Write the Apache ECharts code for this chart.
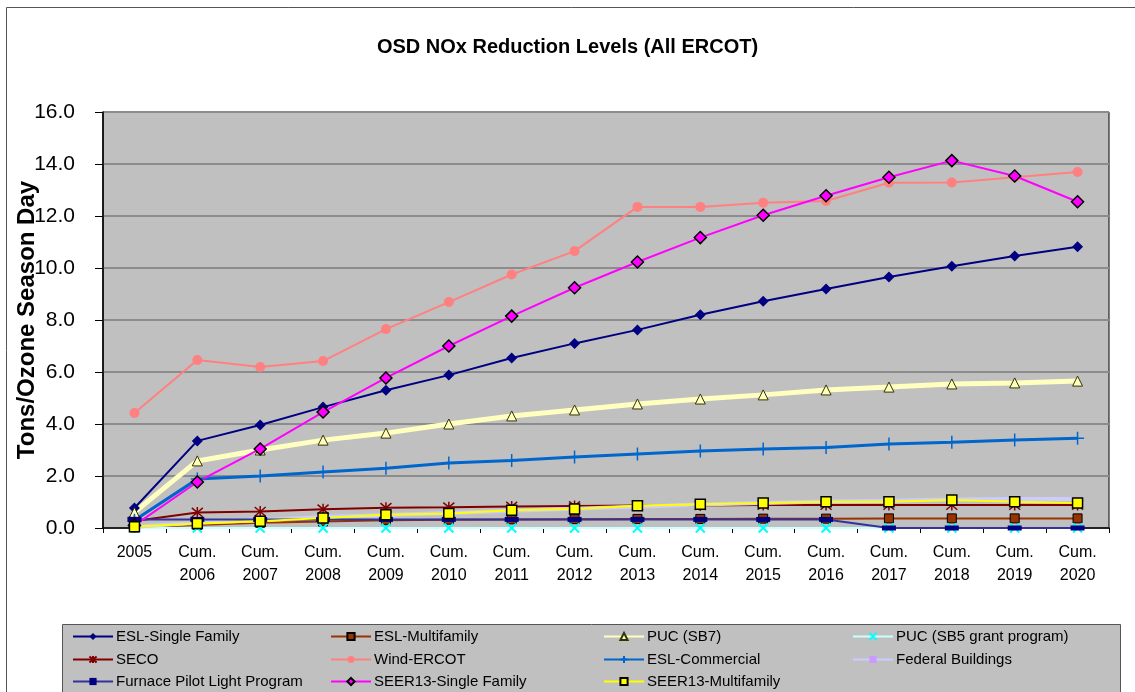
<!DOCTYPE html>
<html>
<head>
    <meta charset="utf-8">
    <title>OSD NOx Reduction Levels</title>
    <script src="https://cdn.jsdelivr.net/npm/echarts@6/dist/echarts.min.js"></script>
    <style>
        body { margin: 0; background: #fff; }
    </style>
</head>
<body>
    <div id="main" style="width:1135px; height:692px;"></div>

    <script type="text/javascript">

        var years = ['2005', 'Cum.\n2006', 'Cum.\n2007', 'Cum.\n2008', 'Cum.\n2009', 'Cum.\n2010',
            'Cum.\n2011', 'Cum.\n2012', 'Cum.\n2013', 'Cum.\n2014', 'Cum.\n2015', 'Cum.\n2016',
            'Cum.\n2017', 'Cum.\n2018', 'Cum.\n2019', 'Cum.\n2020'];

        var eslSingleFamily = [0.77, 3.35, 3.96, 4.65, 5.3, 5.88, 6.54, 7.1, 7.62, 8.2, 8.72, 9.19, 9.65, 10.07, 10.46, 10.82];
        var eslMultifamily = [0.02, 0.12, 0.2, 0.25, 0.3, 0.32, 0.33, 0.34, 0.35, 0.35, 0.36, 0.36, 0.37, 0.37, 0.37, 0.37];
        var pucSB7 = [0.6, 2.58, 3.0, 3.38, 3.65, 4.0, 4.31, 4.54, 4.77, 4.96, 5.12, 5.31, 5.42, 5.54, 5.58, 5.65];
        var pucSB5 = [0, 0, 0, 0, 0, 0, 0, 0, 0, 0, 0, 0, 0, 0, 0, 0];
        var seco = [0.27, 0.6, 0.63, 0.72, 0.78, 0.8, 0.83, 0.85, 0.87, 0.87, 0.88, 0.88, 0.88, 0.88, 0.88, 0.88];
        var windErcot = [4.42, 6.46, 6.19, 6.42, 7.65, 8.69, 9.75, 10.65, 12.35, 12.35, 12.51, 12.58, 13.28, 13.29, 13.49, 13.69];
        var eslCommercial = [0.3, 1.88, 2.0, 2.15, 2.3, 2.5, 2.6, 2.73, 2.85, 2.96, 3.04, 3.1, 3.23, 3.3, 3.38, 3.45];
        var federalBuildings = [0.05, 0.2, 0.3, 0.42, 0.5, 0.58, 0.66, 0.74, 0.82, 0.9, 0.96, 1.02, 1.05, 1.1, 1.12, 1.12];
        var furnacePilot = [0.33, 0.33, 0.33, 0.33, 0.33, 0.33, 0.33, 0.33, 0.33, 0.33, 0.33, 0.33, 0, 0, 0, 0];
        var seer13Single = [0.1, 1.77, 3.04, 4.46, 5.77, 7.0, 8.15, 9.24, 10.23, 11.17, 12.03, 12.78, 13.49, 14.13, 13.54, 12.55];
        var seer13Multi = [0.05, 0.17, 0.26, 0.38, 0.51, 0.56, 0.68, 0.73, 0.86, 0.91, 0.96, 1.01, 1.01, 1.08, 1.01, 0.96];

        var yTicks = { min: 0, max: 16, interval: 2 };

        var FONT = '"Liberation Sans", Arial, sans-serif';

        var xMark = 'path://M0,0L10,10M10,0L0,10';
        var plusMark = 'path://M5,0L5,10M0,5L10,5';
        var starMark = 'path://M0,0L10,10M10,0L0,10M5,-1L5,11';
        var dashMark = 'path://M0,0L12,0L12,4L0,4Z';

        function line(name, data, lineColor, width, symbol, size, fill, border, borderWidth) {
            return {
                name: name,
                type: 'line',
                data: data,
                symbol: symbol,
                symbolSize: size,
                showAllSymbol: true,
                lineStyle: { color: lineColor, width: width },
                itemStyle: { color: fill, borderColor: border, borderWidth: borderWidth },
                emphasis: { disabled: true }
            };
        }

        var series = [
            line('ESL-Single Family', eslSingleFamily, '#000080', 2, 'diamond', 11, '#000080', '#000080', 0),
            line('ESL-Multifamily', eslMultifamily, '#993300', 2, 'rect', 9, '#993300', '#000', 1),
            line('PUC (SB7)', pucSB7, '#FFFFC0', 5, 'triangle', 10, '#FFFFC0', '#333300', 1),
            line('PUC (SB5 grant program)', pucSB5, '#CCFFFF', 2, xMark, 9, 'rgba(0,0,0,0)', '#00FFFF', 2),
            line('SECO', seco, '#800000', 2, starMark, 11, 'rgba(0,0,0,0)', '#800000', 1.5),
            line('Wind-ERCOT', windErcot, '#FF8080', 2, 'circle', 10, '#FF8080', '#FF8080', 0),
            line('ESL-Commercial', eslCommercial, '#0066CC', 3, plusMark, 13, 'rgba(0,0,0,0)', '#0066CC', 1.5),
            line('Federal Buildings', federalBuildings, '#CCCCFF', 4, dashMark, [10, 4], '#CC99FF', '#CC99FF', 0),
            line('Furnace Pilot Light Program', furnacePilot, '#333399', 2, dashMark, [14, 5], '#000080', '#000080', 0),
            line('SEER13-Single Family', seer13Single, '#FF00FF', 2, 'diamond', 12, '#FF00FF', '#000', 1.5),
            line('SEER13-Multifamily', seer13Multi, '#FFFF00', 2, 'rect', 10, '#FFFF00', '#000', 1.5)
        ];

        // legend grid: rows x columns, as in the original Excel legend
        var legendRows = [
            ['ESL-Single Family', 'ESL-Multifamily', 'PUC (SB7)', 'PUC (SB5 grant program)'],
            ['SECO', 'Wind-ERCOT', 'ESL-Commercial', 'Federal Buildings'],
            ['Furnace Pilot Light Program', 'SEER13-Single Family', 'SEER13-Multifamily']
        ];
        var colLeft = [72, 330, 603, 852];
        var rowMid = [635, 658, 680];

        var legends = [];
        legendRows.forEach(function(names, r) {
            names.forEach(function(name, c) {
                legends.push({
                    data: [name],
                    left: colLeft[c],
                    top: rowMid[r] - 6,
                    padding: 0,
                    itemWidth: 40,
                    itemHeight: 9,
                    selectedMode: false,
                    textStyle: { fontFamily: FONT, fontSize: 15, color: '#000', padding: [0, 0, 0, -2] }
                });
            });
        });

        var myChart = echarts.init(document.getElementById('main'));

        myChart.setOption({
            backgroundColor: '#fff',
            animation: false,
            title: {
                text: 'OSD NOx Reduction Levels (All ERCOT)',
                left: 'center',
                top: 32,
                textStyle: { fontFamily: FONT, fontSize: 20, fontWeight: 'bold', color: '#000' }
            },
            graphic: [
                {
                    type: 'rect',
                    shape: { x: 6.5, y: 7.5, width: 1140, height: 700 },
                    style: { fill: 'none', stroke: '#555', lineWidth: 1 },
                    z: -10
                },
                {
                    type: 'rect',
                    shape: { x: 62.5, y: 624.5, width: 1058, height: 80 },
                    style: { fill: '#C0C0C0', stroke: '#555', lineWidth: 1 },
                    z: -5
                }
            ],
            legend: legends,
            grid: {
                left: 103,
                right: 26,
                top: 112,
                bottom: 164,
                outerBoundsMode: 'none',
                containLabel: false,
                show: true,
                backgroundColor: '#C0C0C0',
                borderColor: '#000',
                borderWidth: 1
            },
            xAxis: {
                type: 'category',
                data: years,
                boundaryGap: true,
                axisLine: { lineStyle: { color: '#000', width: 1.5 } },
                axisTick: { show: true, length: 5, lineStyle: { color: '#000' } },
                axisLabel: {
                    interval: 0,
                    margin: 13,
                    fontFamily: FONT,
                    fontSize: 16,
                    lineHeight: 23,
                    color: '#000'
                }
            },
            yAxis: {
                type: 'value',
                min: yTicks.min,
                max: yTicks.max,
                interval: yTicks.interval,
                name: 'Tons/Ozone Season Day',
                nameLocation: 'middle',
                nameGap: 64,
                nameMoveOverlap: false,
                nameTextStyle: { fontFamily: FONT, fontSize: 24, fontWeight: 'bold', color: '#000' },
                axisLine: { show: true, lineStyle: { color: '#000', width: 1.5 } },
                axisTick: { show: true, length: 8, lineStyle: { color: '#000' } },
                splitLine: { show: true, lineStyle: { color: '#8C8C8C', width: 2 } },
                axisLabel: {
                    margin: 28,
                    fontFamily: FONT,
                    fontSize: 21,
                    color: '#000',
                    formatter: function(value) {
                        return value.toFixed(1);
                    }
                }
            },
            series: series
        });
    </script>
</body>
</html>
